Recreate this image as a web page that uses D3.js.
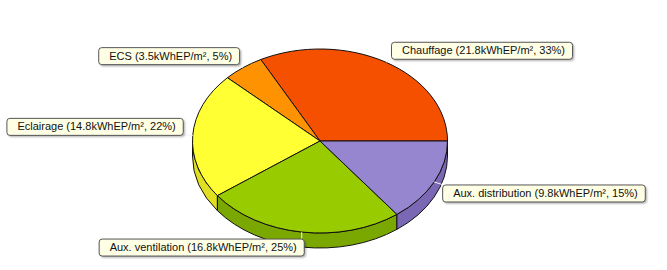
<!DOCTYPE html>
<html>
<head>
<meta charset="utf-8">
<script src="https://cdn.jsdelivr.net/npm/d3@7"></script>
<style>
  body { margin: 0; background: #fff; }
  svg { display: block; }
</style>
</head>
<body>
<svg id="pie_svg"></svg>
<script>
// chart data
var categories = ["Chauffage", "ECS", "Eclairage", "Aux. ventilation", "Aux. distribution"];
var values = [21.8, 3.5, 14.8, 16.8, 9.8];
var percents = [33, 5, 22, 25, 15];
var unit = "kWhEP/m\u00b2";

// colours: top face and side wall
var topColors = ["#f55000", "#ff9200", "#ffff33", "#99cc00", "#9685cf"];
var sideColors = ["#c44000", "#d67a00", "#e0e020", "#7aa800", "#7a68b4"];

// label nudges from the slice mid point on the rim (layout only)
var labelNudge = [[5, -12], [-4, -12], [-10, -9], [2, 15], [8, 11]];

var width = 667, height = 270;
var cx = 320, cy = 141, rx = 127.5, ry = 92, depth = 15;

var svg = d3.select("#pie_svg").attr("width", width).attr("height", height);

var defs = svg.append("defs");
defs.append("filter").attr("id", "blur")
    .attr("x", "-10%").attr("y", "-30%").attr("width", "120%").attr("height", "160%")
  .append("feGaussianBlur").attr("stdDeviation", 1);

// pie starts at 3 o'clock and goes counter clockwise
var pie = d3.pie().sort(null)
    .startAngle(Math.PI / 2)
    .endAngle(Math.PI / 2 - 2 * Math.PI);

var slices = pie(values);

function rim(a) {
  return [cx + rx * Math.sin(a), cy - ry * Math.cos(a)];
}

// side walls (front half only)
var frontLo = -1.5 * Math.PI, frontHi = -0.5 * Math.PI;
var sides = svg.append("g").attr("class", "sides");
slices.forEach(function(d, i) {
  var lo = Math.max(Math.min(d.startAngle, d.endAngle), frontLo),
      hi = Math.min(Math.max(d.startAngle, d.endAngle), frontHi);
  if (hi <= lo) return;
  var p0 = rim(lo), p1 = rim(hi);
  var path = "M" + p0[0] + "," + p0[1] +
      "A" + rx + "," + ry + " 0 0 1 " + p1[0] + "," + p1[1] +
      "L" + p1[0] + "," + (p1[1] + depth) +
      "A" + rx + "," + ry + " 0 0 0 " + p0[0] + "," + (p0[1] + depth) + "Z";
  sides.append("path")
      .attr("d", path)
      .style("fill", sideColors[i])
      .style("stroke", "#111")
      .style("stroke-width", 1)
      .style("stroke-linejoin", "round");
});

// top faces
var arc = d3.arc().innerRadius(0).outerRadius(rx);
svg.append("g")
    .attr("transform", "translate(" + cx + "," + cy + ") scale(1," + (ry / rx) + ")")
  .selectAll("path")
  .data(slices)
  .enter().append("path")
    .attr("d", arc)
    .attr("vector-effect", "non-scaling-stroke")
    .style("fill", function(d, i) { return topColors[i]; })
    .style("stroke", "#111")
    .style("stroke-width", 1)
    .style("stroke-linejoin", "round");

// labels
var labels = svg.append("g").attr("class", "labels")
    .style("font", "11px 'Liberation Sans', Arial, sans-serif");

slices.forEach(function(d, i) {
  var mid = (d.startAngle + d.endAngle) / 2;
  var p = rim(mid);
  var right = Math.sin(mid) >= 0;
  var text = categories[i] + " (" + values[i] + unit + ", " + percents[i] + "%)";

  var g = labels.append("g");
  var t = g.append("text").text(text).style("fill", "#111");
  var tw = t.node().getComputedTextLength();
  var bw = tw + 18, bh = 17;
  var bx = right ? p[0] + labelNudge[i][0] : p[0] + labelNudge[i][0] - bw;
  var by = p[1] + labelNudge[i][1] - bh / 2;

  // leader line from rim to box
  var lx = right ? bx : bx + bw;
  var ly = Math.max(by, Math.min(by + bh, p[1]));
  if (Math.abs(lx - p[0]) < 4) lx = p[0];
  labels.insert("line", ":first-child")
      .attr("x1", p[0]).attr("y1", p[1])
      .attr("x2", lx).attr("y2", ly)
      .style("stroke", "#f4f4f4").style("stroke-width", 1);

  g.insert("rect", "text")
      .attr("x", bx + 2).attr("y", by + 2)
      .attr("width", bw).attr("height", bh)
      .attr("rx", 3)
      .attr("filter", "url(#blur)")
      .style("fill", "#000").style("opacity", 0.35);
  g.insert("rect", "text")
      .attr("x", bx + 0.5).attr("y", by + 0.5)
      .attr("width", bw).attr("height", bh)
      .attr("rx", 3)
      .style("fill", "#ffffe6")
      .style("stroke", "#555")
      .style("stroke-width", 1);
  t.attr("x", bx + 11).attr("y", by + bh / 2 + 4);
});
</script>
</body>
</html>
